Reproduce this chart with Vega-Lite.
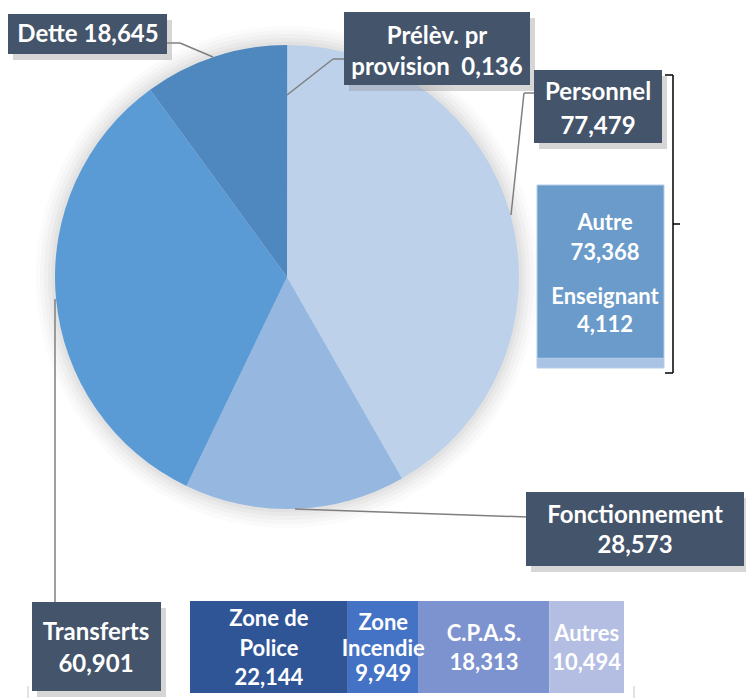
{
"$schema":"https://vega.github.io/schema/vega-lite/v6.json",
"width":746,"height":698,"padding":0,
"autosize":{"type":"fit","contains":"padding"},
"background":"white",
"config":{"view":{"stroke":null},"text":{"font":"Lato","fontWeight":"bold","fontSize":24,"color":"#ffffff","lineBreak":"\n","baseline":"middle","align":"center","lineHeight":31}},
"datasets":{
 "pie":[
  {"poste":"Personnel","valeur":77.479,"ordre":1,"label":"Personnel\n77,479"},
  {"poste":"Fonctionnement","valeur":28.573,"ordre":2,"label":"Fonctionnement\n28,573"},
  {"poste":"Transferts","valeur":60.901,"ordre":3,"label":"Transferts\n60,901"},
  {"poste":"Dette","valeur":18.645,"ordre":4,"label":"Dette 18,645"},
  {"poste":"Prélèv. pr provision","valeur":0.136,"ordre":5,"label":"Prélèv. pr\nprovision\u00a0\u00a00,136"}
 ],
 "transferts":[
  {"poste":"Zone de Police","valeur":22.144,"ordre":1,"label":"Zone de\nPolice\n22,144"},
  {"poste":"Zone Incendie","valeur":9.949,"ordre":2,"label":"Zone\nIncendie\n9,949"},
  {"poste":"C.P.A.S.","valeur":18.313,"ordre":3,"label":"C.P.A.S.\n18,313"},
  {"poste":"Autres","valeur":10.494,"ordre":4,"label":"Autres\n10,494"}
 ],
 "personnel":[
  {"poste":"Enseignant","valeur":4.112,"ordre":1,"label":"Enseignant\n4,112"},
  {"poste":"Autre","valeur":73.368,"ordre":2,"label":"Autre\n73,368"}
 ]
},
"resolve":{"scale":{"x":"independent","y":"independent","theta":"independent","color":"independent"}},
"layer":[
 {"data":{"name":"pie"},"transform":[{"filter":"datum.ordre === 1"}],"mark":{"type":"arc","outerRadius":251,"fill":"#fbfbfb"},"encoding":{"x":{"datum":287,"type":"quantitative","scale":{"domain":[0,746],"range":[0,746],"nice":false,"zero":false},"axis":null},"y":{"datum":277,"type":"quantitative","scale":{"domain":[0,698],"range":[0,698],"nice":false,"zero":false},"axis":null}}},
 {"data":{"name":"pie"},"transform":[{"filter":"datum.ordre === 1"}],"mark":{"type":"arc","outerRadius":247,"fill":"#f6f6f6"},"encoding":{"x":{"datum":287,"type":"quantitative","scale":{"domain":[0,746],"range":[0,746],"nice":false,"zero":false},"axis":null},"y":{"datum":277,"type":"quantitative","scale":{"domain":[0,698],"range":[0,698],"nice":false,"zero":false},"axis":null}}},
 {"data":{"name":"pie"},"transform":[{"filter":"datum.ordre === 1"}],"mark":{"type":"arc","outerRadius":243,"fill":"#f0f0f0"},"encoding":{"x":{"datum":287,"type":"quantitative","scale":{"domain":[0,746],"range":[0,746],"nice":false,"zero":false},"axis":null},"y":{"datum":277,"type":"quantitative","scale":{"domain":[0,698],"range":[0,698],"nice":false,"zero":false},"axis":null}}},
 {"data":{"name":"pie"},"transform":[{"filter":"datum.ordre === 1"}],"mark":{"type":"arc","outerRadius":239,"fill":"#e9e9e9"},"encoding":{"x":{"datum":287,"type":"quantitative","scale":{"domain":[0,746],"range":[0,746],"nice":false,"zero":false},"axis":null},"y":{"datum":277,"type":"quantitative","scale":{"domain":[0,698],"range":[0,698],"nice":false,"zero":false},"axis":null}}},
 {"data":{"name":"pie"},"transform":[{"filter":"datum.ordre === 1"}],"mark":{"type":"arc","outerRadius":235.5,"fill":"#e2e2e2"},"encoding":{"x":{"datum":287,"type":"quantitative","scale":{"domain":[0,746],"range":[0,746],"nice":false,"zero":false},"axis":null},"y":{"datum":277,"type":"quantitative","scale":{"domain":[0,698],"range":[0,698],"nice":false,"zero":false},"axis":null}}},
 {"data":{"name":"pie"},"transform":[{"stack":"valeur","groupby":[],"sort":[{"field":"ordre","order":"ascending"}],"as":["t0","t1"]}],
  "mark":{"type":"arc","outerRadius":232},
  "encoding":{"x":{"datum":287,"type":"quantitative","scale":{"domain":[0,746],"range":[0,746],"nice":false,"zero":false},"axis":null},"y":{"datum":277,"type":"quantitative","scale":{"domain":[0,698],"range":[0,698],"nice":false,"zero":false},"axis":null},
   "theta":{"field":"t0","type":"quantitative","scale":{"nice":false,"zero":true}},"theta2":{"field":"t1"},
   "color":{"field":"poste","type":"nominal","legend":null,"scale":{"domain":["Personnel","Fonctionnement","Transferts","Dette","Prélèv. pr provision"],"range":["#BDD1EA","#95B7E0","#5B9BD5","#4F88BF","#A9C4E6"]}}}},

 {"data":{"name":"pie"},"transform":[{"filter":"datum.ordre === 4"}],"mark":{"type":"rule","stroke":"#7f7f7f","strokeWidth":1.5},"encoding":{"x":{"datum":167,"type":"quantitative","scale":{"domain":[0,746],"range":[0,746],"nice":false,"zero":false},"axis":null},"x2":{"datum":180},"y":{"datum":43,"type":"quantitative","scale":{"domain":[0,698],"range":[0,698],"nice":false,"zero":false},"axis":null},"y2":{"datum":43}}},
 {"data":{"name":"pie"},"transform":[{"filter":"datum.ordre === 4"}],"mark":{"type":"rule","stroke":"#7f7f7f","strokeWidth":1.5},"encoding":{"x":{"datum":180,"type":"quantitative","scale":{"domain":[0,746],"range":[0,746],"nice":false,"zero":false},"axis":null},"x2":{"datum":213},"y":{"datum":43,"type":"quantitative","scale":{"domain":[0,698],"range":[0,698],"nice":false,"zero":false},"axis":null},"y2":{"datum":57}}},
 {"data":{"name":"pie"},"transform":[{"filter":"datum.ordre === 5"}],"mark":{"type":"rule","stroke":"#7f7f7f","strokeWidth":1.5},"encoding":{"x":{"datum":287,"type":"quantitative","scale":{"domain":[0,746],"range":[0,746],"nice":false,"zero":false},"axis":null},"x2":{"datum":333},"y":{"datum":95,"type":"quantitative","scale":{"domain":[0,698],"range":[0,698],"nice":false,"zero":false},"axis":null},"y2":{"datum":59}}},
 {"data":{"name":"pie"},"transform":[{"filter":"datum.ordre === 5"}],"mark":{"type":"rule","stroke":"#7f7f7f","strokeWidth":1.5},"encoding":{"x":{"datum":333,"type":"quantitative","scale":{"domain":[0,746],"range":[0,746],"nice":false,"zero":false},"axis":null},"x2":{"datum":345},"y":{"datum":59,"type":"quantitative","scale":{"domain":[0,698],"range":[0,698],"nice":false,"zero":false},"axis":null},"y2":{"datum":59}}},
 {"data":{"name":"pie"},"transform":[{"filter":"datum.ordre === 1"}],"mark":{"type":"rule","stroke":"#7f7f7f","strokeWidth":1.5},"encoding":{"x":{"datum":534,"type":"quantitative","scale":{"domain":[0,746],"range":[0,746],"nice":false,"zero":false},"axis":null},"x2":{"datum":524},"y":{"datum":93,"type":"quantitative","scale":{"domain":[0,698],"range":[0,698],"nice":false,"zero":false},"axis":null},"y2":{"datum":93}}},
 {"data":{"name":"pie"},"transform":[{"filter":"datum.ordre === 1"}],"mark":{"type":"rule","stroke":"#7f7f7f","strokeWidth":1.5},"encoding":{"x":{"datum":524,"type":"quantitative","scale":{"domain":[0,746],"range":[0,746],"nice":false,"zero":false},"axis":null},"x2":{"datum":511},"y":{"datum":93,"type":"quantitative","scale":{"domain":[0,698],"range":[0,698],"nice":false,"zero":false},"axis":null},"y2":{"datum":215}}},
 {"data":{"name":"pie"},"transform":[{"filter":"datum.ordre === 2"}],"mark":{"type":"rule","stroke":"#7f7f7f","strokeWidth":1.5},"encoding":{"x":{"datum":295,"type":"quantitative","scale":{"domain":[0,746],"range":[0,746],"nice":false,"zero":false},"axis":null},"x2":{"datum":527},"y":{"datum":509,"type":"quantitative","scale":{"domain":[0,698],"range":[0,698],"nice":false,"zero":false},"axis":null},"y2":{"datum":517}}},
 {"data":{"name":"pie"},"transform":[{"filter":"datum.ordre === 3"}],"mark":{"type":"rule","stroke":"#7f7f7f","strokeWidth":1.5},"encoding":{"x":{"datum":55,"type":"quantitative","scale":{"domain":[0,746],"range":[0,746],"nice":false,"zero":false},"axis":null},"x2":{"datum":55},"y":{"datum":299,"type":"quantitative","scale":{"domain":[0,698],"range":[0,698],"nice":false,"zero":false},"axis":null},"y2":{"datum":602}}},

 {"data":{"name":"pie"},"transform":[{"filter":"datum.ordre === 4"}],"mark":{"type":"rect","fill":"#999999","opacity":0.4,"xOffset":5,"x2Offset":5,"yOffset":6,"y2Offset":6},"encoding":{"x":{"datum":8,"type":"quantitative","scale":{"domain":[0,746],"range":[0,746],"nice":false,"zero":false},"axis":null},"x2":{"datum":167},"y":{"datum":14,"type":"quantitative","scale":{"domain":[0,698],"range":[0,698],"nice":false,"zero":false},"axis":null},"y2":{"datum":54}}},
 {"data":{"name":"pie"},"transform":[{"filter":"datum.ordre === 4"}],"mark":{"type":"rect","fill":"#44546A"},"encoding":{"x":{"datum":8,"type":"quantitative","scale":{"domain":[0,746],"range":[0,746],"nice":false,"zero":false},"axis":null},"x2":{"datum":167},"y":{"datum":14,"type":"quantitative","scale":{"domain":[0,698],"range":[0,698],"nice":false,"zero":false},"axis":null},"y2":{"datum":54}}},
 {"data":{"name":"pie"},"transform":[{"filter":"datum.ordre === 4"}],"mark":{"type":"text"},"encoding":{"x":{"datum":88,"type":"quantitative","scale":{"domain":[0,746],"range":[0,746],"nice":false,"zero":false},"axis":null},"y":{"datum":35,"type":"quantitative","scale":{"domain":[0,698],"range":[0,698],"nice":false,"zero":false},"axis":null},"text":{"field":"label"}}},

 {"data":{"name":"pie"},"transform":[{"filter":"datum.ordre === 5"}],"mark":{"type":"rect","fill":"#999999","opacity":0.4,"xOffset":5,"x2Offset":5,"yOffset":6,"y2Offset":6},"encoding":{"x":{"datum":344,"type":"quantitative","scale":{"domain":[0,746],"range":[0,746],"nice":false,"zero":false},"axis":null},"x2":{"datum":530},"y":{"datum":12,"type":"quantitative","scale":{"domain":[0,698],"range":[0,698],"nice":false,"zero":false},"axis":null},"y2":{"datum":85}}},
 {"data":{"name":"pie"},"transform":[{"filter":"datum.ordre === 5"}],"mark":{"type":"rect","fill":"#44546A"},"encoding":{"x":{"datum":344,"type":"quantitative","scale":{"domain":[0,746],"range":[0,746],"nice":false,"zero":false},"axis":null},"x2":{"datum":530},"y":{"datum":12,"type":"quantitative","scale":{"domain":[0,698],"range":[0,698],"nice":false,"zero":false},"axis":null},"y2":{"datum":85}}},
 {"data":{"name":"pie"},"transform":[{"filter":"datum.ordre === 5"}],"mark":{"type":"text","lineHeight":31},"encoding":{"x":{"datum":437,"type":"quantitative","scale":{"domain":[0,746],"range":[0,746],"nice":false,"zero":false},"axis":null},"y":{"datum":37,"type":"quantitative","scale":{"domain":[0,698],"range":[0,698],"nice":false,"zero":false},"axis":null},"text":{"field":"label"}}},

 {"data":{"name":"pie"},"transform":[{"filter":"datum.ordre === 1"}],"mark":{"type":"rect","fill":"#999999","opacity":0.4,"xOffset":5,"x2Offset":5,"yOffset":6,"y2Offset":6},"encoding":{"x":{"datum":534,"type":"quantitative","scale":{"domain":[0,746],"range":[0,746],"nice":false,"zero":false},"axis":null},"x2":{"datum":662},"y":{"datum":70,"type":"quantitative","scale":{"domain":[0,698],"range":[0,698],"nice":false,"zero":false},"axis":null},"y2":{"datum":143}}},
 {"data":{"name":"pie"},"transform":[{"filter":"datum.ordre === 1"}],"mark":{"type":"rect","fill":"#44546A"},"encoding":{"x":{"datum":534,"type":"quantitative","scale":{"domain":[0,746],"range":[0,746],"nice":false,"zero":false},"axis":null},"x2":{"datum":662},"y":{"datum":70,"type":"quantitative","scale":{"domain":[0,698],"range":[0,698],"nice":false,"zero":false},"axis":null},"y2":{"datum":143}}},
 {"data":{"name":"pie"},"transform":[{"filter":"datum.ordre === 1"}],"mark":{"type":"text","lineHeight":34},"encoding":{"x":{"datum":598,"type":"quantitative","scale":{"domain":[0,746],"range":[0,746],"nice":false,"zero":false},"axis":null},"y":{"datum":93,"type":"quantitative","scale":{"domain":[0,698],"range":[0,698],"nice":false,"zero":false},"axis":null},"text":{"field":"label"}}},

 {"data":{"name":"pie"},"transform":[{"filter":"datum.ordre === 2"}],"mark":{"type":"rect","fill":"#999999","opacity":0.4,"xOffset":5,"x2Offset":5,"yOffset":6,"y2Offset":6},"encoding":{"x":{"datum":526,"type":"quantitative","scale":{"domain":[0,746],"range":[0,746],"nice":false,"zero":false},"axis":null},"x2":{"datum":744},"y":{"datum":492,"type":"quantitative","scale":{"domain":[0,698],"range":[0,698],"nice":false,"zero":false},"axis":null},"y2":{"datum":566}}},
 {"data":{"name":"pie"},"transform":[{"filter":"datum.ordre === 2"}],"mark":{"type":"rect","fill":"#44546A"},"encoding":{"x":{"datum":526,"type":"quantitative","scale":{"domain":[0,746],"range":[0,746],"nice":false,"zero":false},"axis":null},"x2":{"datum":744},"y":{"datum":492,"type":"quantitative","scale":{"domain":[0,698],"range":[0,698],"nice":false,"zero":false},"axis":null},"y2":{"datum":566}}},
 {"data":{"name":"pie"},"transform":[{"filter":"datum.ordre === 2"}],"mark":{"type":"text","lineHeight":30},"encoding":{"x":{"datum":635,"type":"quantitative","scale":{"domain":[0,746],"range":[0,746],"nice":false,"zero":false},"axis":null},"y":{"datum":516,"type":"quantitative","scale":{"domain":[0,698],"range":[0,698],"nice":false,"zero":false},"axis":null},"text":{"field":"label"}}},

 {"data":{"name":"pie"},"transform":[{"filter":"datum.ordre === 3"}],"mark":{"type":"rect","fill":"#999999","opacity":0.4,"xOffset":5,"x2Offset":5,"yOffset":6,"y2Offset":6},"encoding":{"x":{"datum":32,"type":"quantitative","scale":{"domain":[0,746],"range":[0,746],"nice":false,"zero":false},"axis":null},"x2":{"datum":161},"y":{"datum":602,"type":"quantitative","scale":{"domain":[0,698],"range":[0,698],"nice":false,"zero":false},"axis":null},"y2":{"datum":691}}},
 {"data":{"name":"pie"},"transform":[{"filter":"datum.ordre === 3"}],"mark":{"type":"rect","fill":"#44546A"},"encoding":{"x":{"datum":32,"type":"quantitative","scale":{"domain":[0,746],"range":[0,746],"nice":false,"zero":false},"axis":null},"x2":{"datum":161},"y":{"datum":602,"type":"quantitative","scale":{"domain":[0,698],"range":[0,698],"nice":false,"zero":false},"axis":null},"y2":{"datum":691}}},
 {"data":{"name":"pie"},"transform":[{"filter":"datum.ordre === 3"}],"mark":{"type":"text","lineHeight":32},"encoding":{"x":{"datum":96,"type":"quantitative","scale":{"domain":[0,746],"range":[0,746],"nice":false,"zero":false},"axis":null},"y":{"datum":633,"type":"quantitative","scale":{"domain":[0,698],"range":[0,698],"nice":false,"zero":false},"axis":null},"text":{"field":"label"}}},

 {"data":{"name":"transferts"},"transform":[{"stack":"valeur","groupby":[],"sort":[{"field":"ordre","order":"ascending"}],"as":["v0","v1"]}],
  "mark":{"type":"rect"},
  "encoding":{"x":{"field":"v0","type":"quantitative","scale":{"range":[190,624],"nice":false,"zero":true},"axis":null},"x2":{"field":"v1"},
   "y":{"datum":601,"type":"quantitative","scale":{"domain":[0,698],"range":[0,698],"nice":false,"zero":false},"axis":null},"y2":{"datum":693},
   "color":{"field":"poste","type":"nominal","legend":null,"scale":{"domain":["Zone de Police","Zone Incendie","C.P.A.S.","Autres"],"range":["#2F5597","#4472C4","#7C93D0","#B4BEE2"]}}}},
 {"data":{"name":"transferts"},
  "mark":{"type":"text","fontSize":22,"lineHeight":29.5},
  "encoding":{"x":{"field":"valeur","type":"quantitative","stack":"zero","bandPosition":0.5,"scale":{"range":[190,624],"nice":false,"zero":true},"axis":null},
   "y":{"datum":619,"type":"quantitative","scale":{"domain":[0,698],"range":[0,698],"nice":false,"zero":false},"axis":null},
   "detail":{"field":"poste"},"order":{"field":"ordre","type":"quantitative"},"text":{"condition":{"test":"datum.ordre === 1","field":"label"},"value":""}}},
 {"data":{"name":"transferts"},
  "mark":{"type":"text","fontSize":22,"lineHeight":25.5},
  "encoding":{"x":{"field":"valeur","type":"quantitative","stack":"zero","bandPosition":0.5,"scale":{"range":[190,624],"nice":false,"zero":true},"axis":null},
   "y":{"datum":623,"type":"quantitative","scale":{"domain":[0,698],"range":[0,698],"nice":false,"zero":false},"axis":null},
   "detail":{"field":"poste"},"order":{"field":"ordre","type":"quantitative"},"text":{"condition":{"test":"datum.ordre === 2","field":"label"},"value":""}}},
 {"data":{"name":"transferts"},
  "mark":{"type":"text","fontSize":22,"lineHeight":29},
  "encoding":{"x":{"field":"valeur","type":"quantitative","stack":"zero","bandPosition":0.5,"scale":{"range":[190,624],"nice":false,"zero":true},"axis":null},
   "y":{"datum":634,"type":"quantitative","scale":{"domain":[0,698],"range":[0,698],"nice":false,"zero":false},"axis":null},
   "detail":{"field":"poste"},"order":{"field":"ordre","type":"quantitative"},"text":{"condition":{"test":"datum.ordre >= 3","field":"label"},"value":""}}},

 {"data":{"name":"personnel"},"transform":[{"stack":"valeur","groupby":[],"sort":[{"field":"ordre","order":"ascending"}],"as":["v0","v1"]}],
  "mark":{"type":"rect","stroke":"#b4cde8","strokeWidth":1},
  "encoding":{"y":{"field":"v0","type":"quantitative","scale":{"range":[368,185],"nice":false,"zero":true},"axis":null},"y2":{"field":"v1"},
   "x":{"datum":537,"type":"quantitative","scale":{"domain":[0,746],"range":[0,746],"nice":false,"zero":false},"axis":null},"x2":{"datum":664},
   "color":{"field":"poste","type":"nominal","legend":null,"scale":{"domain":["Enseignant","Autre"],"range":["#A8C3E3","#6A9BCA"]}}}},
 {"data":{"name":"personnel"},"transform":[{"filter":"datum.ordre === 2"}],"mark":{"type":"text","fontSize":22,"lineHeight":30},"encoding":{"x":{"datum":605,"type":"quantitative","scale":{"domain":[0,746],"range":[0,746],"nice":false,"zero":false},"axis":null},"y":{"datum":223,"type":"quantitative","scale":{"domain":[0,698],"range":[0,698],"nice":false,"zero":false},"axis":null},"text":{"field":"label"}}},
 {"data":{"name":"personnel"},"transform":[{"filter":"datum.ordre === 1"}],"mark":{"type":"text","fontSize":22,"lineHeight":28},"encoding":{"x":{"datum":605,"type":"quantitative","scale":{"domain":[0,746],"range":[0,746],"nice":false,"zero":false},"axis":null},"y":{"datum":297,"type":"quantitative","scale":{"domain":[0,698],"range":[0,698],"nice":false,"zero":false},"axis":null},"text":{"field":"label"}}},

 {"data":{"name":"personnel"},"transform":[{"filter":"datum.ordre === 2"}],"mark":{"type":"rule","stroke":"#000000","strokeWidth":1.5},"encoding":{"x":{"datum":673,"type":"quantitative","scale":{"domain":[0,746],"range":[0,746],"nice":false,"zero":false},"axis":null},"x2":{"datum":673},"y":{"datum":75,"type":"quantitative","scale":{"domain":[0,698],"range":[0,698],"nice":false,"zero":false},"axis":null},"y2":{"datum":373}}},
 {"data":{"name":"personnel"},"transform":[{"filter":"datum.ordre === 2"}],"mark":{"type":"rule","stroke":"#000000","strokeWidth":1.5},"encoding":{"x":{"datum":665,"type":"quantitative","scale":{"domain":[0,746],"range":[0,746],"nice":false,"zero":false},"axis":null},"x2":{"datum":673},"y":{"datum":75,"type":"quantitative","scale":{"domain":[0,698],"range":[0,698],"nice":false,"zero":false},"axis":null},"y2":{"datum":75}}},
 {"data":{"name":"personnel"},"transform":[{"filter":"datum.ordre === 2"}],"mark":{"type":"rule","stroke":"#000000","strokeWidth":1.5},"encoding":{"x":{"datum":665,"type":"quantitative","scale":{"domain":[0,746],"range":[0,746],"nice":false,"zero":false},"axis":null},"x2":{"datum":673},"y":{"datum":373,"type":"quantitative","scale":{"domain":[0,698],"range":[0,698],"nice":false,"zero":false},"axis":null},"y2":{"datum":373}}},
 {"data":{"name":"personnel"},"transform":[{"filter":"datum.ordre === 2"}],"mark":{"type":"rule","stroke":"#000000","strokeWidth":1.5},"encoding":{"x":{"datum":673,"type":"quantitative","scale":{"domain":[0,746],"range":[0,746],"nice":false,"zero":false},"axis":null},"x2":{"datum":680},"y":{"datum":224,"type":"quantitative","scale":{"domain":[0,698],"range":[0,698],"nice":false,"zero":false},"axis":null},"y2":{"datum":224}}},

 {"data":{"name":"transferts"},"transform":[{"filter":"datum.ordre === 1"}],"mark":{"type":"rule","stroke":"#c8c8c8","strokeWidth":1},"encoding":{"x":{"datum":28,"type":"quantitative","scale":{"domain":[0,746],"range":[0,746],"nice":false,"zero":false},"axis":null},"x2":{"datum":28},"y":{"datum":686,"type":"quantitative","scale":{"domain":[0,698],"range":[0,698],"nice":false,"zero":false},"axis":null},"y2":{"datum":698}}},
 {"data":{"name":"transferts"},"transform":[{"filter":"datum.ordre === 1"}],"mark":{"type":"rule","stroke":"#c8c8c8","strokeWidth":1},"encoding":{"x":{"datum":634,"type":"quantitative","scale":{"domain":[0,746],"range":[0,746],"nice":false,"zero":false},"axis":null},"x2":{"datum":634},"y":{"datum":686,"type":"quantitative","scale":{"domain":[0,698],"range":[0,698],"nice":false,"zero":false},"axis":null},"y2":{"datum":698}}}
]
}
